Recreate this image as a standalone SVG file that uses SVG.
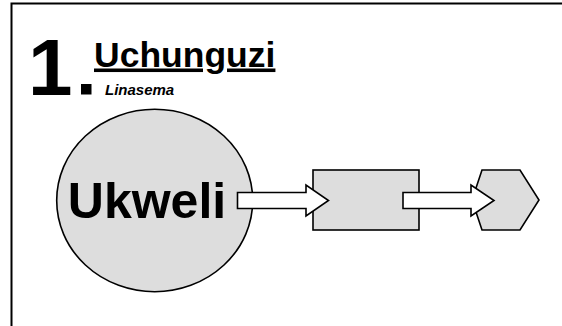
<svg xmlns="http://www.w3.org/2000/svg" width="562" height="326" viewBox="0 0 562 326">
<style>
.node{fill:#dddddd;stroke:#000;stroke-width:1.6}
.arr{fill:#fff;stroke:#000;stroke-width:1.6;stroke-linejoin:miter}
.t{font-family:"Liberation Sans",Arial,sans-serif;font-weight:bold;fill:#000}
</style>
<rect x="0" y="0" width="562" height="326" fill="#fff"/>
<path d="M11.5,326 V3.5 H562" fill="none" stroke="#000" stroke-width="2"/>
<g id="title">
<text class="t" x="28" y="95" font-size="80">1</text>
<rect x="81" y="84" width="10.5" height="10.5" fill="#000"/>
<text class="t" x="94" y="66.5" font-size="35.5" text-decoration="underline">Uchunguzi</text>
<text class="t" x="105" y="95" font-size="15" font-style="italic">Linasema</text>
</g>
<g id="ukweli">
<ellipse class="node" cx="154.7" cy="200.5" rx="98" ry="91.2"/>
<text class="t" x="147" y="218" font-size="50" text-anchor="middle">Ukweli</text>
</g>
<g id="box">
<rect class="node" x="313" y="170" width="106" height="60"/>
</g>
<g id="hexagon">
<polygon class="node" points="472,200 482,170 520,170 539,200 520,230 482,230"/>
</g>
<g id="connectors">
<polygon class="arr" points="237.5,192.5 306,192.5 306,185 328.5,200.5 306,216 306,208.5 237.5,208.5"/>
<polygon class="arr" points="403,192.5 471,192.5 471,185 494,200.5 471,216 471,208.5 403,208.5"/>
</g>
</svg>
